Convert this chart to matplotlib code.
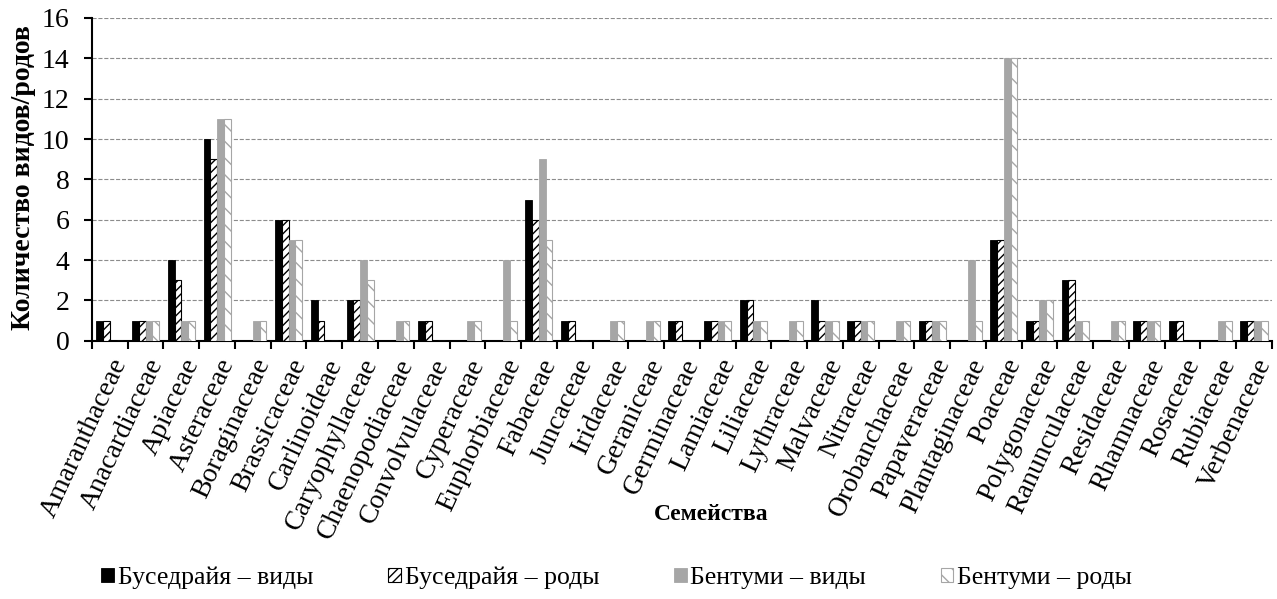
import numpy as np
import matplotlib.pyplot as plt

plt.rcParams['font.family'] = ['Liberation Serif', 'DejaVu Serif']
plt.rcParams['hatch.linewidth'] = 1.0

families = ['Amaranthaceae', 'Anacardiaceae', 'Apiaceae', 'Asteraceae', 'Boraginaceae',
            'Brassicaceae', 'Carlinoideae', 'Caryophyllaceae', 'Chaenopodiaceae',
            'Convolvulaceae', 'Cyperaceae', 'Euphorbiaceae', 'Fabaceae', 'Juncaceae',
            'Iridaceae', 'Geraniceae', 'Germinaceae', 'Lamiaceae', 'Liliaceae',
            'Lythraceae', 'Malvaceae', 'Nitraceae', 'Orobanchaceae', 'Papaveraceae',
            'Plantaginaceae', 'Poaceae', 'Polygonaceae', 'Ranunculaceae', 'Residaceae',
            'Rhamnaceae', 'Rosaceae', 'Rubiaceae', 'Verbenaceae']
bus_species = [1, 1, 4, 10, 0, 6, 2, 2, 0, 1, 0, 0, 7, 1, 0, 0, 1, 1, 2, 0, 2, 1, 0, 1, 0, 5, 1, 3, 0, 1, 1, 0, 1]
bus_genera  = [1, 1, 3, 9, 0, 6, 1, 2, 0, 1, 0, 0, 6, 1, 0, 0, 1, 1, 2, 0, 1, 1, 0, 1, 0, 5, 1, 3, 0, 1, 1, 0, 1]
ben_species = [0, 1, 1, 11, 1, 5, 0, 4, 1, 0, 1, 4, 9, 0, 1, 1, 0, 1, 1, 1, 1, 1, 1, 1, 4, 14, 2, 1, 1, 1, 0, 1, 1]
ben_genera  = [0, 1, 1, 11, 1, 5, 0, 3, 1, 0, 1, 1, 5, 0, 1, 1, 0, 1, 1, 1, 1, 1, 1, 1, 1, 14, 2, 1, 1, 1, 0, 1, 1]

x = np.arange(len(families))
w = 0.19

fig, ax = plt.subplots(figsize=(12.77, 5.99), dpi=100)
fig.subplots_adjust(left=0.072, right=0.996, top=0.97, bottom=0.431)

ax.bar(x - 1.5 * w, bus_species, w, color='black', edgecolor='black', linewidth=0.6,
       label='Буседрайя – виды', zorder=3)
ax.bar(x - 0.5 * w, bus_genera, w, color='white', edgecolor='black', hatch='////',
       linewidth=0.8, label='Буседрайя – роды', zorder=3)
ax.bar(x + 0.5 * w, ben_species, w, color='#A6A6A6', edgecolor='#A6A6A6', linewidth=0.6,
       label='Бентуми – виды', zorder=3)
ax.bar(x + 1.5 * w, ben_genera, w, color='white', edgecolor='#A6A6A6', hatch='\\\\',
       linewidth=0.8, label='Бентуми – роды', zorder=3)

ax.set_xlim(-0.5, len(families) - 0.5)
ax.set_ylim(0, 16)
ax.set_yticks(range(0, 17, 2))
ax.yaxis.grid(True, linestyle='--', color='#8C8C8C', linewidth=0.8, zorder=0)

ax.set_xticks(x)
ax.set_xticklabels(families, rotation=65, ha='right', rotation_mode='anchor', fontsize=20)
ax.set_xticks(np.arange(-0.5, len(families), 1), minor=True)
ax.tick_params(axis='x', which='major', length=0, pad=10)
ax.tick_params(axis='x', which='minor', length=6, width=1.5, direction='out')
ax.tick_params(axis='y', labelsize=20, length=6, width=1.5, pad=10)

for s in ['top', 'right']:
    ax.spines[s].set_visible(False)
ax.spines['left'].set_linewidth(1.5)
ax.spines['bottom'].set_linewidth(1.5)

ax.set_ylabel('Количество видов/родов', fontsize=20, fontweight='bold')
ax.yaxis.set_label_coords(-0.047, 0.505)
ax.set_xlabel('Семейства', fontsize=17, fontweight='bold')
ax.xaxis.set_label_coords(0.525, -0.505)

fig.legend(loc='center', ncol=4, frameon=False, fontsize=18.5,
           bbox_to_anchor=(0.483, 0.035), handlelength=0.5, handleheight=0.5,
           handletextpad=0.15, columnspacing=2.9)

fig.savefig('out.png', dpi=100)
